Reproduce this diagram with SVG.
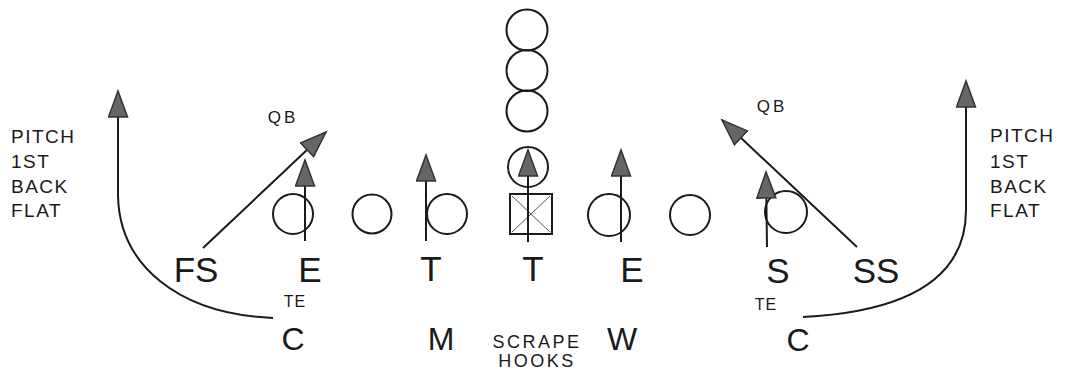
<svg xmlns="http://www.w3.org/2000/svg" width="1065" height="376" viewBox="0 0 1065 376">
<defs>
<style>
.o{fill:none;stroke:#1a1a1a;stroke-width:2}
.ln{fill:none;stroke:#1a1a1a;stroke-width:2}
.big{font-family:"Liberation Sans",Arial,sans-serif;font-size:35px;fill:#1a1a1a;text-anchor:middle}
.mid{font-family:"Liberation Sans",Arial,sans-serif;font-size:32px;fill:#1a1a1a;text-anchor:middle}
.sm{font-family:"Liberation Sans",Arial,sans-serif;font-size:16px;fill:#1a1a1a;text-anchor:middle;letter-spacing:1px}
.qb{font-family:"Liberation Sans",Arial,sans-serif;font-size:17px;fill:#1a1a1a;text-anchor:middle;letter-spacing:3px}
.lbl{font-family:"Liberation Sans",Arial,sans-serif;font-size:19px;fill:#1a1a1a;letter-spacing:1.5px}
.hk{font-family:"Liberation Sans",Arial,sans-serif;font-size:18px;fill:#1a1a1a;text-anchor:middle;letter-spacing:2.5px}
</style>
<marker id="ah" markerUnits="userSpaceOnUse" markerWidth="30" markerHeight="22" refX="27" refY="10.5" orient="auto">
<path d="M1,1 L27,10.5 L1,20 Z" fill="#666" stroke="#333" stroke-width="1.5"/>
</marker>
</defs>
<rect width="1065" height="376" fill="#fff"/>

<g id="offense">
<g id="o-back1"><circle class="o" cx="527" cy="30" r="20.5"/></g>
<g id="o-back2"><circle class="o" cx="527" cy="70.5" r="20.5"/></g>
<g id="o-back3"><circle class="o" cx="527" cy="111" r="20.5"/></g>
<g id="o-qb"><circle class="o" cx="528" cy="167" r="20"/></g>
<g id="o-center"><rect class="o" x="510" y="194" width="42" height="40"/><path d="M512 196 L550 232 M550 196 L512 232" fill="none" stroke="#555" stroke-width="1"/></g>
<g id="o-lte"><circle class="o" cx="293" cy="214" r="20"/></g>
<g id="o-lt"><circle class="o" cx="372" cy="214" r="19.5"/></g>
<g id="o-lg"><circle class="o" cx="447" cy="214" r="20"/></g>
<g id="o-rg"><circle class="o" cx="609" cy="215" r="21"/></g>
<g id="o-rt"><circle class="o" cx="690" cy="215" r="20"/></g>
<g id="o-rte"><circle class="o" cx="786" cy="212" r="21"/></g>
</g>

<g id="connectors">
<path class="ln" d="M273 318 C178 314 119 265 118 195 L118 91" marker-end="url(#ah)"/>
<path class="ln" d="M803 317 C900 312 966 282 966 210 L966 81" marker-end="url(#ah)"/>
<path class="ln" d="M203 248 L326 132" marker-end="url(#ah)"/>
<path class="ln" d="M857 247 L722 120" marker-end="url(#ah)"/>
<path class="ln" d="M305 241 L305 160" marker-end="url(#ah)"/>
<path class="ln" d="M426 241 L426 155" marker-end="url(#ah)"/>
<path class="ln" d="M528 242 L528 150" marker-end="url(#ah)"/>
<path class="ln" d="M621 242 L621 150" marker-end="url(#ah)"/>
<path class="ln" d="M767 247 L766 172" marker-end="url(#ah)"/>
</g>

<g id="d-fs"><text class="big" x="196" y="282">FS</text></g>
<g id="d-le"><text class="big" x="310" y="282">E</text></g>
<g id="d-lt"><text class="big" x="431" y="281">T</text></g>
<g id="d-rt"><text class="big" x="533" y="281">T</text></g>
<g id="d-re"><text class="big" x="632" y="282">E</text></g>
<g id="d-s"><text class="big" x="778" y="283">S</text></g>
<g id="d-ss"><text class="big" x="876" y="283">SS</text></g>
<g id="d-lc"><text class="mid" x="293" y="350">C</text></g>
<g id="d-m"><text class="mid" x="441" y="350">M</text></g>
<g id="d-w"><text class="mid" x="622" y="350">W</text></g>
<g id="d-rc"><text class="mid" x="798" y="351">C</text></g>

<g id="labels">
<text class="sm" x="295" y="307">TE</text>
<text class="sm" x="766" y="310">TE</text>
<text class="qb" x="283" y="123">QB</text>
<text class="qb" x="772" y="112">QB</text>
<text class="hk" x="537" y="348">SCRAPE</text>
<text class="hk" x="537" y="367">HOOKS</text>
<text class="lbl" x="11" y="143">PITCH</text>
<text class="lbl" x="11" y="168">1ST</text>
<text class="lbl" x="11" y="193">BACK</text>
<text class="lbl" x="11" y="217">FLAT</text>
<text class="lbl" x="990" y="142">PITCH</text>
<text class="lbl" x="990" y="168">1ST</text>
<text class="lbl" x="990" y="193">BACK</text>
<text class="lbl" x="990" y="217">FLAT</text>
</g>
</svg>
